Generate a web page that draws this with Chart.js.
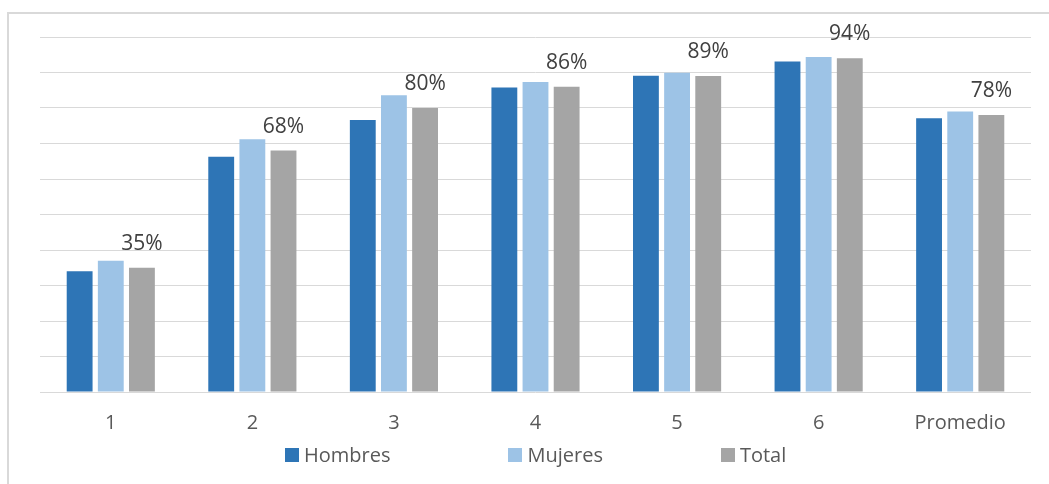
<!DOCTYPE html>
<html>
<head>
<meta charset="utf-8">
<script src="https://cdn.jsdelivr.net/npm/chart.js@4"></script>
<style>
    body { margin: 0; background: #fff; }
    #marco {
        position: absolute; left: 7px; top: 12px; right: 0; bottom: 0;
        border-top: 2px solid #d9d9d9; border-left: 2px solid #d9d9d9;
    }
    #grafica { position: absolute; left: 0; top: 0; }
    #leyenda {
        position: absolute; left: 285px; top: 441px;
        display: flex; font: 20px "Open Sans", sans-serif; color: #595959;
    }
    #leyenda .item { display: flex; align-items: center; margin-right: 118px; }
    #leyenda .caja { width: 14px; height: 14px; margin-right: 5px; }
</style>
</head>
<body>
<div id="marco"></div>
<canvas id="grafica" width="1049" height="484"></canvas>
<div id="leyenda"></div>

<script>
// porcentajes por grado
const categorias = ['1', '2', '3', '4', '5', '6', 'Promedio'];
const hombres = [34, 66.3, 76.6, 85.8, 89.1, 93.1, 77.1];
const mujeres = [37, 71.2, 83.6, 87.3, 89.9, 94.4, 79];
const total = [35, 68, 80, 86, 89, 94, 78];

const colores = ['#2e75b6', '#9dc3e6', '#a5a5a5'];

// etiqueta de porcentaje sobre la barra del total
const etiquetas_total = {
    id: 'etiquetas_total',
    afterDatasetsDraw(chart)
    {
        let ctx = chart.ctx;
        let meta = chart.getDatasetMeta(2);
        ctx.save();
        ctx.font = '21px "Open Sans"';
        ctx.fillStyle = '#404040';
        ctx.textAlign = 'center';
        ctx.textBaseline = 'alphabetic';
        meta.data.forEach((bar, i) => {
            ctx.fillText(Math.round(total[i]) + '%', bar.x, bar.y - 18);
        });
        ctx.restore();
    }
};

let data = {
    labels: categorias,
    datasets: [
        { label: 'Hombres', data: hombres, backgroundColor: colores[0] },
        { label: 'Mujeres', data: mujeres, backgroundColor: colores[1] },
        { label: 'Total', data: total, backgroundColor: colores[2] }
    ]
};

let chart = new Chart(document.getElementById('grafica').getContext('2d'), {
    type: 'bar',
    data: data,
    plugins: [etiquetas_total],
    options: {
        responsive: false,
        animation: false,
        datasets: {
            bar: { categoryPercentage: 0.66, barPercentage: 0.83, borderWidth: 0 }
        },
        layout: { padding: { left: 40, right: 18, top: 37, bottom: 30 } },
        plugins: {
            legend: { display: false },
            tooltip: { enabled: false }
        },
        scales: {
            x: {
                grid: { display: false, drawTicks: false },
                border: { display: false },
                ticks: {
                    padding: 19,
                    color: '#595959',
                    font: { family: 'Open Sans', size: 20 }
                }
            },
            y: {
                min: 0,
                max: 100,
                ticks: { display: false, stepSize: 10 },
                grid: { color: '#d9d9d9', lineWidth: 1, drawTicks: false },
                border: { display: false }
            }
        }
    }
});

// leyenda en html
let html = '';
chart.data.datasets.forEach((ds) => {
    html += `<div class="item"><span class="caja" style="background:${ds.backgroundColor}"></span>${ds.label}</div>`;
});
document.getElementById('leyenda').innerHTML = html;
</script>
</body>
</html>
